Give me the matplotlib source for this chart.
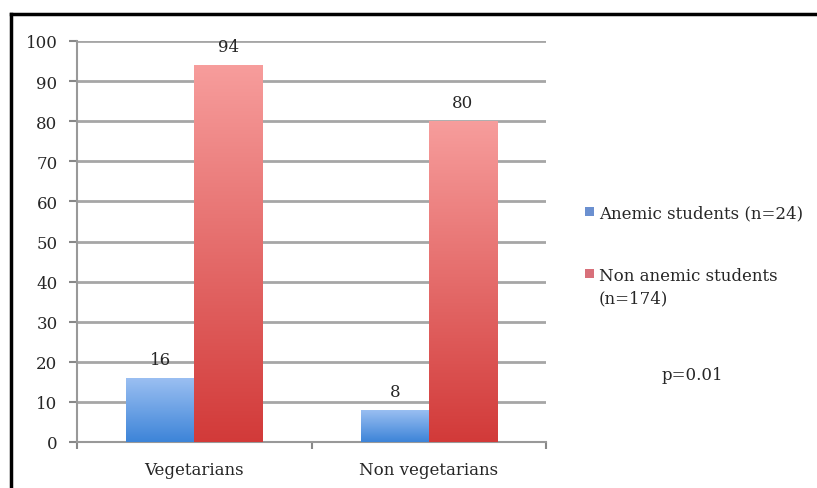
import matplotlib
matplotlib.use("Agg")
import matplotlib.pyplot as plt
import numpy as np
from matplotlib.colors import LinearSegmentedColormap
from matplotlib.lines import Line2D
from matplotlib.patches import Rectangle

categories = ["Vegetarians", "Non vegetarians"]
anemic = [16, 8]
non_anemic = [94, 80]
series_labels = ["Anemic students (n=24)", "Non anemic students\n(n=174)"]
p_text = "p=0.01"

plt.rcParams['font.family'] = ['DejaVu Serif']
FS = 12
TXT = '#262626'

W, H = 817, 489
fig = plt.figure(figsize=(W / 100, H / 100), dpi=100)
ax = fig.add_axes([77 / W, (H - 443) / H, (546 - 77) / W, (443 - 42) / H])

x = np.arange(len(categories))
bw = 0.29
b1 = ax.bar(x - bw / 2, anemic, bw, facecolor='none', edgecolor='none', zorder=3)
b2 = ax.bar(x + bw / 2, non_anemic, bw, facecolor='none', edgecolor='none', zorder=3)

blue_cm = LinearSegmentedColormap.from_list('b', ['#3d84d8', '#9cc0f2'])
red_cm = LinearSegmentedColormap.from_list('r', ['#d23a39', '#f79d9c'])
grad = np.linspace(0, 1, 256).reshape(-1, 1)

# gradient fill clipped to each bar
for bars, cm in [(b1, blue_cm), (b2, red_cm)]:
    for r in bars:
        x0, y0 = r.get_x(), r.get_y()
        im = ax.imshow(grad, cmap=cm, origin='lower', aspect='auto',
                       extent=[x0, x0 + r.get_width(), y0, y0 + r.get_height()],
                       zorder=3)
        im.set_clip_path(r)
        ax.annotate(str(int(r.get_height())), (x0 + r.get_width() / 2, r.get_height()),
                    xytext=(0, 7), textcoords='offset points', ha='center', va='bottom',
                    fontsize=FS, color=TXT)

ax.set_xlim(-0.5, 1.5)
ax.set_ylim(0, 100)
ax.set_yticks(range(0, 101, 10))
ax.set_xticks(x)
ax.set_xticklabels(categories, fontsize=FS, color=TXT)
ax.tick_params(axis='y', labelsize=FS, colors='#888888', labelcolor=TXT, length=6, width=1.5, pad=8)
ax.tick_params(axis='x', length=0, pad=14)
ax.set_xticks([-0.5, 0.5, 1.5], minor=True)
ax.tick_params(axis='x', which='minor', length=5, width=1.5, color='#888888')
ax.yaxis.grid(True, color='#a6a6a6', linewidth=2)
ax.set_axisbelow(True)
for s in ['top', 'right']:
    ax.spines[s].set_visible(False)
for s in ['left', 'bottom']:
    ax.spines[s].set_color('#999999')
    ax.spines[s].set_linewidth(1.5)

# legend drawn by hand
fig.patches.append(Rectangle((585 / W, (H - 217) / H), 9 / W, 9 / H, transform=fig.transFigure,
                             facecolor='#6b90d0', edgecolor='none'))
fig.text(599 / W, (H - 214) / H, series_labels[0], fontsize=FS, va='center', color=TXT)
fig.patches.append(Rectangle((585 / W, (H - 279) / H), 9 / W, 9 / H, transform=fig.transFigure,
                             facecolor='#d8707a', edgecolor='none'))
fig.text(599 / W, (H - 268) / H, series_labels[1], fontsize=FS, va='top', color=TXT,
         linespacing=1.4)
fig.text(692 / W, (H - 376) / H, p_text, fontsize=FS, ha='center', va='center', color=TXT)

# outer frame (top and left only visible)
fig.lines.append(Line2D([11 / W, 1], [(H - 15) / H] * 2, transform=fig.transFigure,
                        color='black', linewidth=2.5))
fig.lines.append(Line2D([11 / W] * 2, [0, (H - 15) / H], transform=fig.transFigure,
                        color='black', linewidth=2.5))

fig.savefig('out.png', dpi=100)
